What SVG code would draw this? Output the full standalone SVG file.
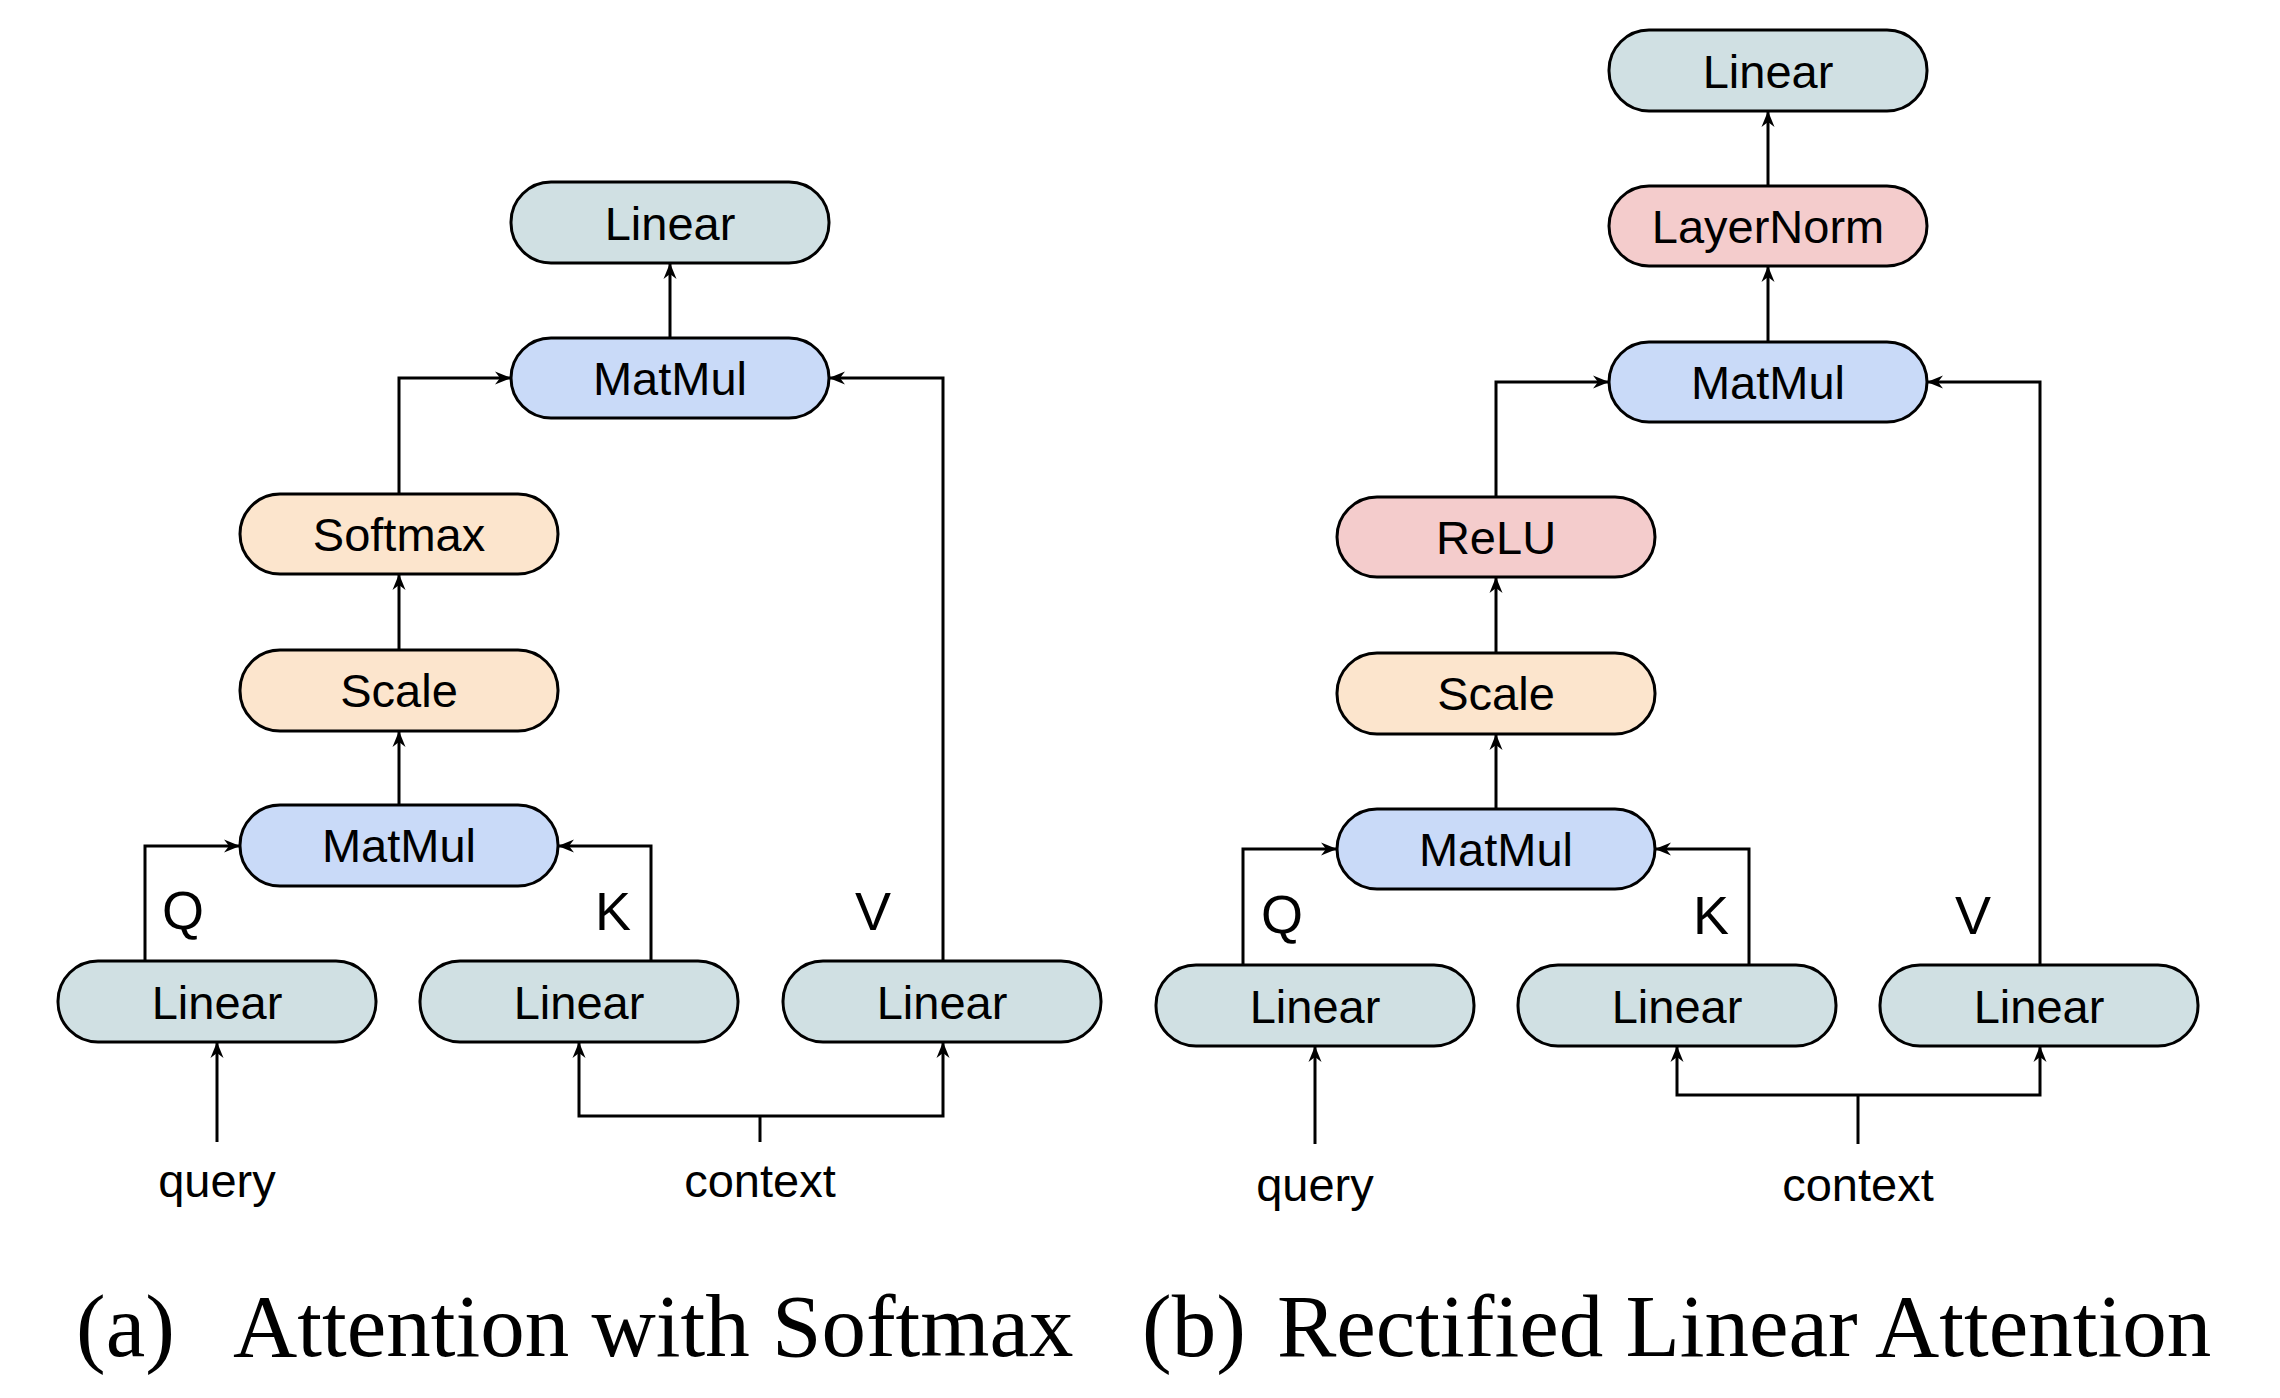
<svg xmlns="http://www.w3.org/2000/svg" width="2280" height="1398" viewBox="0 0 2280 1398">
<style>
.n rect{stroke:#000;stroke-width:3}
.lin rect{fill:#d0e0e3}
.mm rect{fill:#c9daf8}
.or rect{fill:#fce5cd}
.rd rect{fill:#f4cccc}
.n text,.lbl{font-family:"Liberation Sans",Arial,sans-serif;font-size:47px;text-anchor:middle;fill:#000}
.qkv{font-family:"Liberation Sans",Arial,sans-serif;font-size:54px;text-anchor:middle;fill:#000}
.cap{font-family:"Liberation Serif","Times New Roman",serif;font-size:89px;fill:#000}
#edges path{fill:none;stroke:#000;stroke-width:3}
.a{marker-end:url(#ah)}
</style>
<defs>
<marker id="ah" markerUnits="userSpaceOnUse" viewBox="-17 -7 18 14" refX="0" refY="0" markerWidth="18" markerHeight="14" orient="auto">
<path d="M0,0 L-16,-6.5 L-11,0 L-16,6.5 Z" fill="#000"/>
</marker>
</defs>
<rect width="2280" height="1398" fill="#fff"/>

<g id="edges">
<!-- left -->
<path class="a" d="M670,338 V263"/>
<path class="a" d="M399,494 V378 H511"/>
<path class="a" d="M943,961 V378 H829"/>
<path class="a" d="M399,650 V574"/>
<path class="a" d="M399,805 V731"/>
<path class="a" d="M145,961 V846 H240"/>
<path class="a" d="M651,961 V846 H558"/>
<path class="a" d="M217,1142 V1042"/>
<path d="M760,1142 V1116"/>
<path class="a" d="M760,1116 H579 V1042"/>
<path class="a" d="M760,1116 H943 V1042"/>
<!-- right -->
<path class="a" d="M1768,186 V111"/>
<path class="a" d="M1768,342 V266"/>
<path class="a" d="M1496,497 V382 H1609"/>
<path class="a" d="M2040,965 V382 H1927"/>
<path class="a" d="M1496,653 V577"/>
<path class="a" d="M1496,809 V734"/>
<path class="a" d="M1243,965 V849 H1337"/>
<path class="a" d="M1749,965 V849 H1655"/>
<path class="a" d="M1315,1144 V1046"/>
<path d="M1858,1144 V1095"/>
<path class="a" d="M1858,1095 H1677 V1046"/>
<path class="a" d="M1858,1095 H2040 V1046"/>
</g>

<!-- left diagram nodes -->
<g id="a_linear_out" class="n lin"><rect x="511" y="182" width="318" height="81" rx="40"/><text x="670" y="240">Linear</text></g>
<g id="a_matmul2" class="n mm"><rect x="511" y="338" width="318" height="80" rx="40"/><text x="670" y="395">MatMul</text></g>
<g id="a_softmax" class="n or"><rect x="240" y="494" width="318" height="80" rx="40"/><text x="399" y="551">Softmax</text></g>
<g id="a_scale" class="n or"><rect x="240" y="650" width="318" height="81" rx="40"/><text x="399" y="707">Scale</text></g>
<g id="a_matmul1" class="n mm"><rect x="240" y="805" width="318" height="81" rx="40"/><text x="399" y="862">MatMul</text></g>
<g id="a_linear_q" class="n lin"><rect x="58" y="961" width="318" height="81" rx="40"/><text x="217" y="1019">Linear</text></g>
<g id="a_linear_k" class="n lin"><rect x="420" y="961" width="318" height="81" rx="40"/><text x="579" y="1019">Linear</text></g>
<g id="a_linear_v" class="n lin"><rect x="783" y="961" width="318" height="81" rx="40"/><text x="942" y="1019">Linear</text></g>
<text class="qkv" x="183" y="929">Q</text>
<text class="qkv" x="613" y="930">K</text>
<text class="qkv" x="873" y="930">V</text>
<text class="lbl" x="217" y="1197">query</text>
<text class="lbl" x="760" y="1197">context</text>

<!-- right diagram nodes -->
<g id="b_linear_out" class="n lin"><rect x="1609" y="30" width="318" height="81" rx="40"/><text x="1768" y="88">Linear</text></g>
<g id="b_layernorm" class="n rd"><rect x="1609" y="186" width="318" height="80" rx="40"/><text x="1768" y="243">LayerNorm</text></g>
<g id="b_matmul2" class="n mm"><rect x="1609" y="342" width="318" height="80" rx="40"/><text x="1768" y="399">MatMul</text></g>
<g id="b_relu" class="n rd"><rect x="1337" y="497" width="318" height="80" rx="40"/><text x="1496" y="554">ReLU</text></g>
<g id="b_scale" class="n or"><rect x="1337" y="653" width="318" height="81" rx="40"/><text x="1496" y="710">Scale</text></g>
<g id="b_matmul1" class="n mm"><rect x="1337" y="809" width="318" height="80" rx="40"/><text x="1496" y="866">MatMul</text></g>
<g id="b_linear_q" class="n lin"><rect x="1156" y="965" width="318" height="81" rx="40"/><text x="1315" y="1023">Linear</text></g>
<g id="b_linear_k" class="n lin"><rect x="1518" y="965" width="318" height="81" rx="40"/><text x="1677" y="1023">Linear</text></g>
<g id="b_linear_v" class="n lin"><rect x="1880" y="965" width="318" height="81" rx="40"/><text x="2039" y="1023">Linear</text></g>
<text class="qkv" x="1282" y="933">Q</text>
<text class="qkv" x="1711" y="934">K</text>
<text class="qkv" x="1973" y="934">V</text>
<text class="lbl" x="1315" y="1201">query</text>
<text class="lbl" x="1858" y="1201">context</text>

<!-- captions -->
<text class="cap" y="1356"><tspan x="76">(a)</tspan><tspan x="233">Attention with Softmax</tspan></text>
<text class="cap" y="1356"><tspan x="1142">(b)</tspan><tspan x="1277">Rectified Linear Attention</tspan></text>
</svg>
